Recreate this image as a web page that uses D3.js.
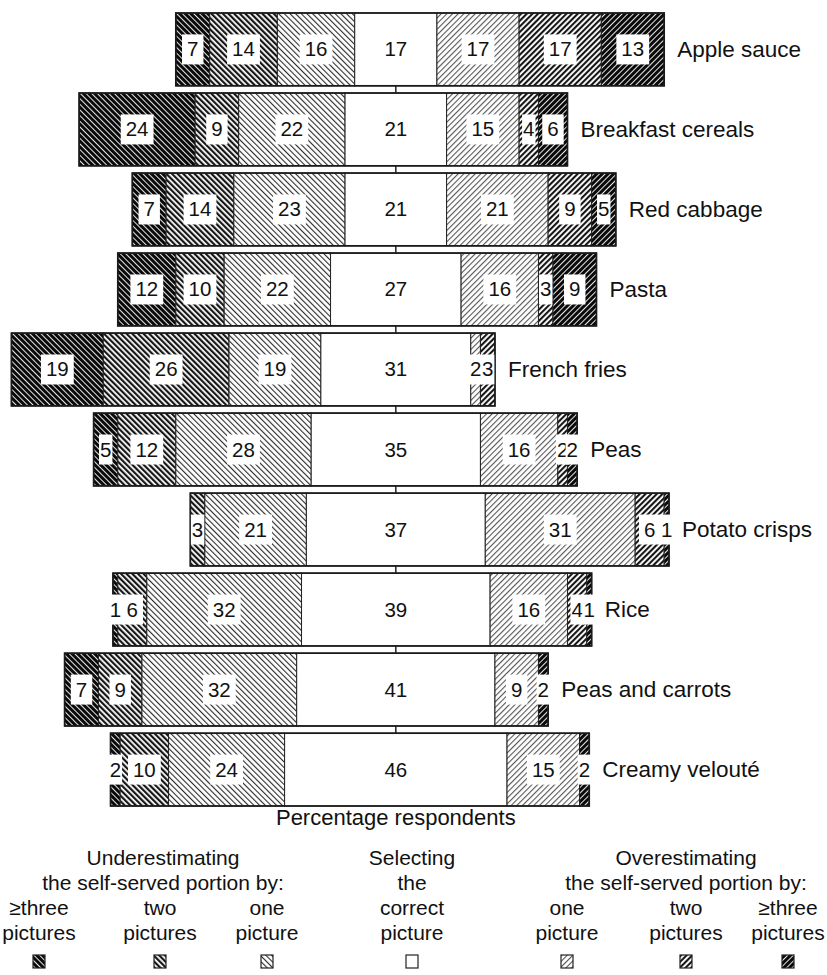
<!DOCTYPE html>
<html>
<head>
<meta charset="utf-8">
<script src="https://cdn.jsdelivr.net/npm/d3@7"></script>
<style>
  html, body { margin: 0; padding: 0; background: #fff; }
  svg { display: block; }
  text { font-family: "Liberation Sans", Arial, Helvetica, sans-serif; fill: #111; }
</style>
</head>
<body>
<svg id="chart" width="827" height="975"></svg>
<script>
// ---------------- data ----------------
const categories = ["Apple sauce","Breakfast cereals","Red cabbage","Pasta","French fries","Peas","Potato crisps","Rice","Peas and carrots","Creamy velouté"];
const under3  = [7, 24, 7, 12, 19, 5, 0, 1, 7, 2];
const under2  = [14, 9, 14, 10, 26, 12, 3, 6, 9, 10];
const under1  = [16, 22, 23, 22, 19, 28, 21, 32, 32, 24];
const correct = [17, 21, 21, 27, 31, 35, 37, 39, 41, 46];
const over1   = [17, 15, 21, 16, 2, 16, 31, 16, 9, 15];
const over2   = [17, 4, 9, 3, 3, 2, 6, 4, 0, 0];
const over3   = [13, 6, 5, 9, 0, 2, 1, 1, 2, 2];

const seriesKeys = ["under3","under2","under1","correct","over1","over2","over3"];
const seriesValues = {under3, under2, under1, correct, over1, over2, over3};

const axisTitle = "Percentage respondents";
const legendGroups = [
  {title: ["Underestimating", "the self-served portion by:"], items: [
    {key: "under3", label: ["≥three", "pictures"]},
    {key: "under2", label: ["two", "pictures"]},
    {key: "under1", label: ["one", "picture"]}
  ]},
  {title: ["Selecting", "the"], items: [
    {key: "correct", label: ["correct", "picture"]}
  ]},
  {title: ["Overestimating", "the self-served portion by:"], items: [
    {key: "over1", label: ["one", "picture"]},
    {key: "over2", label: ["two", "pictures"]},
    {key: "over3", label: ["≥three", "pictures"]}
  ]}
];

// ---------------- setup ----------------
const svg = d3.select("#chart");
const defs = svg.append("defs");

function hatch(id, dir, bg, fg, sw) {
  const p = defs.append("pattern")
    .attr("id", id)
    .attr("patternUnits", "userSpaceOnUse")
    .attr("width", 4).attr("height", 4)
    .attr("patternTransform", `rotate(${dir === "back" ? -45 : 45})`);
  p.append("rect").attr("width", 4).attr("height", 4).attr("fill", bg);
  p.append("rect").attr("x", 0).attr("y", 0).attr("width", sw).attr("height", 4).attr("fill", fg);
}
hatch("p-under3", "back", "#0a0a0a", "#ffffff", 0.9);
hatch("p-under2", "back", "#ffffff", "#161616", 2.2);
hatch("p-under1", "back", "#ffffff", "#2a2a2a", 1.1);
hatch("p-over1", "fwd", "#ffffff", "#555555", 1.1);
hatch("p-over2", "fwd", "#ffffff", "#161616", 2.1);
hatch("p-over3", "fwd", "#0a0a0a", "#ffffff", 0.9);
const fillOf = k => k === "correct" ? "#ffffff" : `url(#p-${k})`;

// rows
const rows = categories.map((c, i) => {
  const vals = seriesKeys.map(k => seriesValues[k][i]);
  const start = -(under3[i] + under2[i] + under1[i] + correct[i] / 2);
  let acc = start;
  const segs = seriesKeys.map((k, j) => {
    const s = {key: k, value: vals[j], x0: acc, x1: acc + vals[j]};
    acc += vals[j];
    return s;
  });
  return {category: c, start, end: acc, segs};
});

const x = d3.scaleLinear().domain([-80, 90]).range([9, 831]);
const y = d3.scaleBand().domain(categories).range([13, 806]).paddingInner(0.09).paddingOuter(0);

// connectors between bars at centre
const g = svg.append("g");
categories.slice(0, -1).forEach((c, i) => {
  g.append("line")
    .attr("x1", x(0)).attr("x2", x(0))
    .attr("y1", y(c) + y.bandwidth())
    .attr("y2", y(categories[i + 1]))
    .attr("stroke", "#222").attr("stroke-width", 1.5);
});

const rowG = g.selectAll("g.row").data(rows).join("g").attr("class", "row")
  .attr("transform", d => `translate(0,${y(d.category)})`);

rowG.selectAll("rect.seg").data(d => d.segs.filter(s => s.value > 0)).join("rect")
  .attr("class", "seg")
  .attr("x", s => x(s.x0))
  .attr("width", s => x(s.x1) - x(s.x0))
  .attr("y", 0).attr("height", y.bandwidth())
  .attr("fill", s => fillOf(s.key))
  .attr("stroke", "#222").attr("stroke-width", 1);

rowG.append("rect")
  .attr("x", d => x(d.start)).attr("width", d => x(d.end) - x(d.start))
  .attr("y", 0).attr("height", y.bandwidth())
  .attr("fill", "none").attr("stroke", "#1a1a1a").attr("stroke-width", 1.7);

// value labels
const labG = rowG.selectAll("g.lab").data(d => d.segs.filter(s => s.value > 0)).join("g").attr("class", "lab");
labG.each(function(s) {
  const gg = d3.select(this);
  const cx = (x(s.x0) + x(s.x1)) / 2;
  const w = x(s.x1) - x(s.x0);
  const t = gg.append("text")
    .attr("x", cx).attr("y", y.bandwidth() / 2 + 7)
    .attr("text-anchor", "middle")
    .attr("font-size", 20.5)
    .text(s.value);
  const bb = t.node().getBBox();
  const pad = w > bb.width + 14 ? 5 : 1;
  gg.insert("rect", "text")
    .attr("x", bb.x - pad).attr("width", bb.width + 2 * pad)
    .attr("y", y.bandwidth() / 2 - 15).attr("height", 30)
    .attr("fill", "#fff");
});

// category labels
rowG.append("text")
  .attr("x", d => x(d.end) + 13)
  .attr("y", y.bandwidth() / 2 + 7.5)
  .attr("font-size", 22.5)
  .text(d => d.category);

// axis title
svg.append("text")
  .attr("x", x(0)).attr("y", 825)
  .attr("text-anchor", "middle").attr("font-size", 22)
  .text(axisTitle);

// ---------------- legend ----------------
const groupCenters = [163, 412, 686];
const itemCenters = {under3: 39, under2: 160, under1: 267, correct: 412, over1: 567, over2: 686, over3: 788};
const lineY = [865, 890, 915, 940];
const lg = svg.append("g");
legendGroups.forEach((grp, gi) => {
  grp.title.forEach((t, ti) => {
    lg.append("text").attr("x", groupCenters[gi]).attr("y", lineY[ti])
      .attr("text-anchor", "middle").attr("font-size", 21).text(t);
  });
  grp.items.forEach(it => {
    it.label.forEach((t, li) => {
      lg.append("text").attr("x", itemCenters[it.key]).attr("y", lineY[2 + li])
        .attr("text-anchor", "middle").attr("font-size", 21).text(t);
    });
    lg.append("rect")
      .attr("x", itemCenters[it.key] - 6).attr("y", 955)
      .attr("width", 12).attr("height", 13)
      .attr("fill", fillOf(it.key))
      .attr("stroke", "#222").attr("stroke-width", 1.2);
  });
});
</script>
</body>
</html>
